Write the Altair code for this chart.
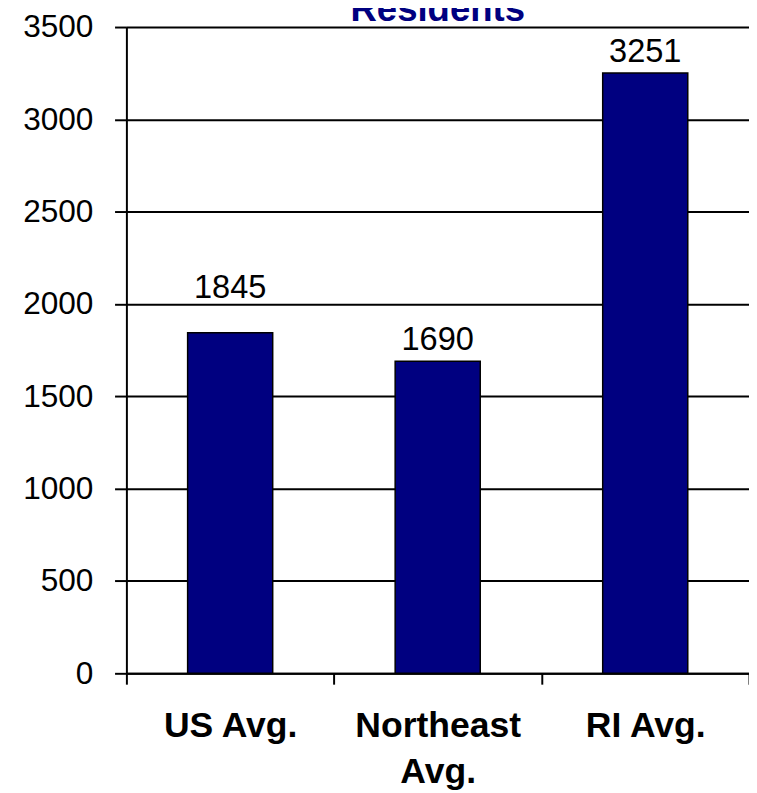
import altair as alt
import pandas as pd

categories = ["US Avg.", "Northeast Avg.", "RI Avg."]
values = [1845, 1690, 3251]
y_ticks = [0, 500, 1000, 1500, 2000, 2500, 3000, 3500]
title_text = "Residents"

df = pd.DataFrame({"region": categories, "value": values})
title_df = pd.DataFrame({"t": [title_text]})

FONT = "Liberation Sans"
W = 631
H = 655

x_scale = alt.Scale(paddingInner=0, paddingOuter=0)
x_enc = alt.X(
    "region:N",
    sort=categories,
    scale=x_scale,
    axis=alt.Axis(
        title=None,
        labelAngle=0,
        labelFont=FONT,
        labelFontSize=36,
        labelFontWeight="bold",
        labelColor="black",
        labelPadding=25,
        labelLineHeight=47,
        labelOverlap=False,
        tickBand="extent",
        tickColor="black",
        tickWidth=2,
        tickSize=11,
        domainColor="black",
        domainWidth=2,
        labelExpr="datum.label == 'Northeast Avg.' ? ['Northeast', 'Avg.'] : datum.label",
    ),
)
y_enc = alt.Y(
    "value:Q",
    scale=alt.Scale(domain=[0, 3500], nice=False),
    axis=alt.Axis(
        title=None,
        values=y_ticks,
        format="d",
        grid=True,
        gridColor="black",
        gridWidth=2,
        gridOpacity=1,
        domainColor="black",
        domainWidth=2,
        tickColor="black",
        tickWidth=2,
        tickSize=12,
        labelFont=FONT,
        labelFontSize=32,
        labelColor="black",
        labelPadding=22,
    ),
)

bars = alt.Chart(df).mark_bar(
    color="#000080", stroke="black", strokeWidth=1.5, width=alt.RelativeBandSize(0.41)
).encode(x=x_enc, y=y_enc)

x_plain = alt.X("region:N", sort=categories)
labels_main = (
    alt.Chart(df)
    .transform_filter(alt.datum.region != "US Avg.")
    .mark_text(baseline="alphabetic", dy=-11, font=FONT, fontSize=33, color="black")
    .encode(x=x_plain, y="value:Q", text=alt.Text("value:Q", format="d"))
)
labels_us = (
    alt.Chart(df)
    .transform_filter(alt.datum.region == "US Avg.")
    .mark_text(baseline="alphabetic", dy=-35, font=FONT, fontSize=33, color="black")
    .encode(x=x_plain, y="value:Q", text=alt.Text("value:Q", format="d"))
)

title_mark = (
    alt.Chart(title_df)
    .mark_text(
        baseline="alphabetic",
        align="center",
        font=FONT,
        fontSize=37,
        fontWeight="bold",
        color="#000080",
    )
    .encode(text="t:N", x=alt.value(W / 2), y=alt.value(-6))
)

chart = (
    alt.layer(bars, labels_main, labels_us, title_mark)
    .properties(
        width=W,
        height=H,
        autosize=alt.AutoSizeParams(type="none"),
        padding={"left": 120, "top": 14, "right": 0, "bottom": 116},
    )
    .configure_view(stroke=None)
)

chart.save("out.html", embed_options={"renderer": "svg", "actions": False})
